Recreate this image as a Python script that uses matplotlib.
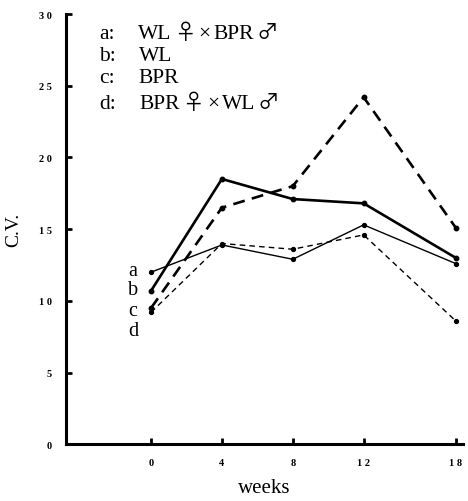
import matplotlib
matplotlib.use("Agg")
import matplotlib.pyplot as plt
from matplotlib.offsetbox import TextArea, HPacker, VPacker, AnnotationBbox

# week labels and where they sit on the (not to scale) axis
week_labels = ["0", "4", "8", "1 2", "1 8"]
week_pos = [0, 4, 8, 12, 17.2]

# C.V. values
cv_a = [12.0, 13.9, 12.9, 15.3, 12.6]   # WL female x BPR male (thin solid)
cv_b = [10.7, 18.5, 17.1, 16.8, 13.0]   # WL (thick solid)
cv_c = [9.5, 16.5, 18.0, 24.2, 15.1]    # BPR (thick dashed)
cv_d = [9.2, 14.0, 13.6, 14.6, 8.6]     # BPR female x WL male (thin dashed)

# key text, split so the sex signs can use a wider font
legend_parts = [
    ["a:", "WL", "♀", "×", "BPR", "♂"],
    ["b:", "WL"],
    ["c:", "BPR"],
    ["d:", "BPR", "♀", "×", "WL", "♂"],
]
line_tags = ["a", "b", "c", "d"]
tag_y = [12.1, 10.8, 9.3, 7.9]

serif = ["Liberation Serif", "DejaVu Serif"]
signs = ["Noto Sans CJK JP", "DejaVu Sans"]

fig = plt.figure(figsize=(4.68, 5.02), dpi=100)
ax = fig.add_axes([0.141, 0.113, 0.848, 0.857])

ax.plot(week_pos, cv_a, "-", color="black", lw=1.0, marker="o", ms=2.8)
ax.plot(week_pos, cv_b, "-", color="black", lw=1.9, marker="o", ms=3.2)
ax.plot(week_pos, cv_c, color="black", lw=1.9, ls=(0, (4.5, 2.8)), marker="o", ms=3.2)
ax.plot(week_pos, cv_d, color="black", lw=1.0, ls=(0, (4, 3)), marker="o", ms=2.8)

for t, y in zip(line_tags, tag_y):
    ax.text(-1.3, y, t, ha="left", va="center", fontsize=14.5, family=serif)

rows = []
for parts in legend_parts:
    boxes = []
    for p in parts:
        fam = signs if p in ("♀", "♂") else serif
        boxes.append(TextArea(p, textprops=dict(fontsize=15.5, family=fam)))
    head = HPacker(children=boxes[:1], pad=0, sep=0)
    body = HPacker(children=boxes[1:], align="baseline", pad=0, sep=2)
    rows.append(HPacker(children=[head, body], align="baseline", pad=0, sep=17))
key = VPacker(children=rows, align="left", pad=0, sep=2.5)
ab = AnnotationBbox(key, (0.083, 0.985), xycoords="axes fraction",
                    box_alignment=(0, 1), frameon=False, pad=0)
ax.add_artist(ab)

ax.set_xlim(-4.8, 17.6)
ax.set_ylim(0, 30)
ax.set_xticks(week_pos)
ax.set_xticklabels(week_labels)
ax.set_yticks([0, 5, 10, 15, 20, 25, 30])
ax.set_yticklabels(["0", "5", "1 0", "1 5", "2 0", "2 5", "3 0"])
ax.tick_params(direction="in", length=4, width=2, labelsize=7.5, pad=10)
for lab in ax.get_xticklabels() + ax.get_yticklabels():
    lab.set_fontweight("bold")
    lab.set_family(serif)

for side in ["top", "right"]:
    ax.spines[side].set_visible(False)
for side in ["left", "bottom"]:
    ax.spines[side].set_linewidth(2.2)

ax.set_ylabel("C.V.", fontsize=14, family=serif, labelpad=12)
ax.set_xlabel("weeks", fontsize=15, family=serif, labelpad=8)

fig.savefig("out.png", dpi=100)
